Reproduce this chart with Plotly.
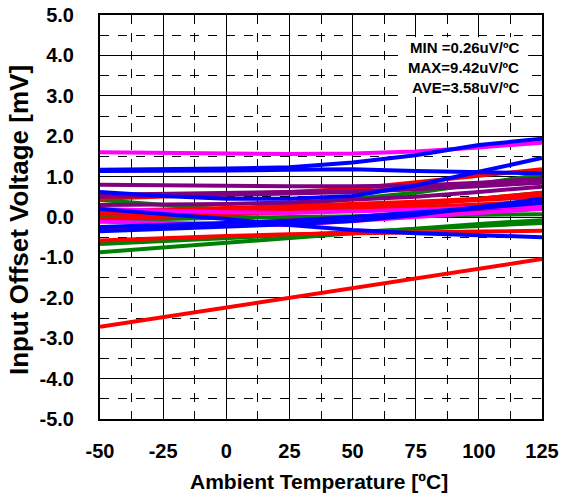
import plotly.graph_objects as go

temps = [-50, -25, 0, 25, 50, 75, 100, 125]

series_colors = {
    "magenta": "#FF00FF", "blue": "#0000FF", "purple": "#800080",
    "red": "#FF0000", "green": "#008000",
}

# Input offset voltage [mV] per unit, sampled at temps
magenta_1 = [1.60, 1.58, 1.57, 1.56, 1.57, 1.62, 1.72, 1.84]
magenta_2 = [0.20, 0.15, 0.12, 0.10, 0.13, 0.18, 0.23, 0.28]
magenta_3 = [-0.12, -0.15, -0.18, -0.20, -0.10, 0.00, 0.12, 0.20]
blue_1 = [1.17, 1.18, 1.20, 1.23, 1.35, 1.53, 1.78, 1.94]
blue_2 = [1.14, 1.14, 1.15, 1.17, 1.18, 1.14, 1.10, 1.08]
blue_3 = [0.62, 0.52, 0.45, 0.45, 0.52, 0.78, 1.12, 1.46]
blue_4 = [0.20, 0.08, -0.05, -0.20, -0.32, -0.40, -0.45, -0.50]
blue_5 = [-0.35, -0.30, -0.25, -0.18, -0.10, 0.05, 0.25, 0.45]
blue_6 = [-0.25, -0.20, -0.15, -0.10, 0.00, 0.10, 0.22, 0.35]
purple_1 = [0.80, 0.78, 0.77, 0.76, 0.76, 0.78, 0.85, 0.95]
purple_2 = [0.55, 0.58, 0.60, 0.62, 0.64, 0.70, 0.80, 0.90]
purple_3 = [0.50, 0.52, 0.55, 0.58, 0.62, 0.68, 0.76, 0.85]
purple_4 = [-0.33, -0.25, -0.18, -0.10, 0.00, 0.10, 0.20, 0.30]
purple_5 = [0.30, 0.31, 0.32, 0.36, 0.42, 0.50, 0.62, 0.75]
red_1 = [0.45, 0.50, 0.55, 0.62, 0.70, 0.85, 1.02, 1.18]
red_2 = [0.07, 0.10, 0.15, 0.20, 0.26, 0.33, 0.42, 0.50]
red_3 = [-0.05, 0.00, 0.05, 0.10, 0.17, 0.24, 0.31, 0.38]
red_4 = [-0.30, -0.25, -0.20, -0.12, -0.05, 0.05, 0.15, 0.25]
red_5 = [-0.58, -0.52, -0.47, -0.43, -0.40, -0.38, -0.36, -0.34]
red_6 = [0.15, 0.18, 0.22, 0.27, 0.32, 0.38, 0.45, 0.60]
red_7 = [-2.72, -2.48, -2.24, -2.00, -1.76, -1.52, -1.28, -1.04]
green_1 = [0.42, 0.30, 0.18, 0.30, 0.45, 0.60, 0.82, 1.05]
green_2 = [-0.05, -0.05, -0.02, 0.00, 0.02, 0.03, 0.05, 0.07]
green_3 = [-0.87, -0.75, -0.65, -0.52, -0.40, -0.28, -0.17, -0.08]
green_4 = [-0.67, -0.60, -0.52, -0.45, -0.38, -0.30, -0.22, -0.15]
green_5 = [0.00, 0.05, 0.10, 0.15, 0.20, 0.30, 0.45, 0.60]

series = [
    ("green", green_3), ("green", green_4), ("green", green_2), ("green", green_5), ("green", green_1),
    ("red", red_7), ("red", red_5), ("red", red_4), ("red", red_3), ("red", red_2), ("red", red_6), ("red", red_1),
    ("purple", purple_4), ("purple", purple_5), ("purple", purple_3), ("purple", purple_2), ("purple", purple_1),
    ("magenta", magenta_3), ("magenta", magenta_2),
    ("blue", blue_6), ("blue", blue_5), ("blue", blue_4), ("blue", blue_3), ("blue", blue_2),
    ("magenta", magenta_1), ("blue", blue_1),
]

x_tick_vals = [-50, -25, 0, 25, 50, 75, 100, 125]
x_tick_text = ["-50", "-25", "0", "25", "50", "75", "100", "125"]
y_tick_vals = [5, 4, 3, 2, 1, 0, -1, -2, -3, -4, -5]
y_tick_text = ["5.0", "4.0", "3.0", "2.0", "1.0", "0.0", "-1.0", "-2.0", "-3.0", "-4.0", "-5.0"]

x_title = "Ambient Temperature [ºC]"
y_title = "Input Offset Voltage [mV]"
stats_text = ["MIN =0.26uV/ºC", "MAX=9.42uV/ºC", "AVE=3.58uV/ºC"]
stats_y = [4.2, 3.7, 3.2]

FONT = "Liberation Sans, Arial, sans-serif"

fig = go.Figure()
for cname, vals in series:
    fig.add_trace(go.Scatter(
        x=temps, y=vals, mode="lines",
        line=dict(color=series_colors[cname], width=4),
        showlegend=False, hoverinfo="skip",
    ))

axis_common = dict(
    showline=True, linecolor="black", linewidth=2, mirror=True,
    showgrid=True, gridcolor="black", gridwidth=1,
    zeroline=False, ticks="", automargin=False,
    tickfont=dict(family=FONT, size=20, color="black", weight="bold"),
)

fig.update_xaxes(
    range=[-50, 125], tickvals=x_tick_vals, ticktext=x_tick_text, ticklabelstandoff=13,
    minor=dict(dtick=12.5, tick0=-50, showgrid=True, gridcolor="black", gridwidth=1, griddash="dash"),
    **axis_common,
)
fig.update_yaxes(
    range=[-5, 5], tickvals=y_tick_vals, ticktext=y_tick_text, ticklabelstandoff=20,
    minor=dict(dtick=0.5, tick0=-5, showgrid=True, gridcolor="black", gridwidth=1, griddash="dash"),
    **axis_common,
)

fig.add_annotation(x=0.495, y=0, xref="paper", yref="paper", yshift=-62, text=x_title,
                   showarrow=False, xanchor="center", yanchor="middle",
                   font=dict(family=FONT, size=21, color="black", weight="bold"))
fig.add_annotation(x=0, y=0.5, xref="paper", yref="paper", xshift=-81, yshift=-3, text=y_title,
                   showarrow=False, xanchor="center", yanchor="middle", textangle=-90,
                   font=dict(family=FONT, size=26, color="black", weight="bold"))

fig.add_shape(type="rect", xref="x", yref="y", x0=68, x1=119.5, y0=2.97, y1=4.45,
              fillcolor="white", line=dict(width=0), layer="above")
for t, yv in zip(stats_text, stats_y):
    fig.add_annotation(x=116.7, y=yv, xref="x", yref="y", text=t, showarrow=False,
                       xanchor="right", yanchor="middle",
                       font=dict(family=FONT, size=15, color="black", weight="bold"))

fig.update_layout(
    width=561, height=493,
    margin=dict(l=100, r=19, t=15, b=74),
    plot_bgcolor="white", paper_bgcolor="white",
)

fig.write_html("out.html", config={"displayModeBar": False},
               post_script="document.body.style.margin='0';")
